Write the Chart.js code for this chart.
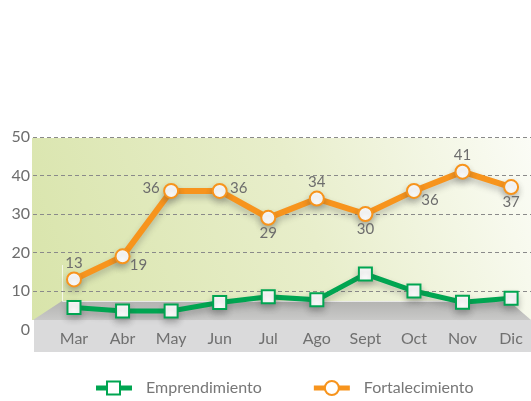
<!DOCTYPE html>
<html lang="es">
<head>
<meta charset="utf-8">
<title>Emprendimiento y Fortalecimiento</title>
<script src="https://cdn.jsdelivr.net/npm/chart.js@4.4.1/dist/chart.umd.min.js"></script>
<style>
  html, body { margin: 0; padding: 0; background: #fff; overflow: hidden; }
  canvas { display: block; }
</style>
</head>
<body>
<canvas id="grafico" width="531" height="401"></canvas>
<script>
"use strict";

const meses           = ["Mar", "Abr", "May", "Jun", "Jul", "Ago", "Sept", "Oct", "Nov", "Dic"];
const emprendimiento  = [5.7, 4.8, 4.8, 7.0, 8.5, 7.7, 14.4, 10.0, 7.1, 8.1];
const fortalecimiento = [13, 19, 36, 36, 29, 34, 30, 36, 41, 37];
const ejeYMin = 0;
const ejeYMax = 50;
const ejeYPaso = 10;

const VERDE   = "#00a551";
const NARANJA = "#f7941d";
const GRIS    = "#6d6d6d";
const FUENTE  = "Lato, 'Open Sans', sans-serif";

// fondo verde, piso gris y franja de meses
const fondo = {
  id: "fondo",
  beforeDraw(chart) {
    const { ctx, chartArea } = chart;
    const y = chart.scales.y;
    const izq = chartArea.left - 1;
    const der = chart.width;
    const arriba = y.getPixelForValue(ejeYMax) + 1;
    const base = chartArea.bottom;
    const pisoArriba = base - 28.5;
    const pisoAbajo = base - 9.5;

    ctx.save();
    const g = ctx.createLinearGradient(izq, pisoAbajo, der, arriba);
    g.addColorStop(0, "#d8e4aa");
    g.addColorStop(0.55, "#e8eecb");
    g.addColorStop(1, "#fbfcf6");
    ctx.fillStyle = g;
    ctx.fillRect(izq, arriba, der - izq, pisoAbajo - arriba);

    const p = ctx.createLinearGradient(0, pisoArriba, 0, pisoAbajo);
    p.addColorStop(0, "#b3b3b1");
    p.addColorStop(1, "#c9c9c8");
    ctx.fillStyle = p;
    ctx.beginPath();
    ctx.moveTo(izq + 1, pisoAbajo);
    ctx.lineTo(izq + 30, pisoArriba);
    ctx.lineTo(der - 22, pisoArriba);
    ctx.lineTo(der, pisoAbajo);
    ctx.closePath();
    ctx.fill();

    ctx.strokeStyle = "rgba(255,255,255,0.7)";
    ctx.lineWidth = 1;
    ctx.beginPath();
    ctx.moveTo(izq + 30.5, pisoArriba - 36);
    ctx.lineTo(izq + 30.5, pisoArriba + 0.5);
    ctx.lineTo(der - 22, pisoArriba + 0.5);
    ctx.stroke();

    ctx.fillStyle = "#dadadb";
    ctx.fillRect(izq + 2, pisoAbajo, der - izq - 2, 32);
    ctx.restore();
  }
};

// sombra suave bajo las líneas
const sombra = {
  id: "sombra",
  beforeDatasetsDraw(chart) {
    const ctx = chart.ctx;
    ctx.save();
    ctx.shadowColor = "rgba(70,70,70,0.3)";
    ctx.shadowBlur = 6;
    ctx.shadowOffsetY = 4;
  },
  afterDatasetsDraw(chart) {
    chart.ctx.restore();
  }
};

// valores de Fortalecimiento junto a cada punto
const etiquetas = {
  id: "etiquetas",
  afterDraw(chart, args, opts) {
    const ctx = chart.ctx;
    const puntos = chart.getDatasetMeta(1).data;
    const desp = {
      arriba: [0, -16], abajo: [0, 15], izq: [-20, -3], der: [19, -3], se: [16, 9]
    };
    ctx.save();
    ctx.font = "15px " + FUENTE;
    ctx.fillStyle = GRIS;
    ctx.textAlign = "center";
    ctx.textBaseline = "middle";
    puntos.forEach((pt, i) => {
      const [dx, dy] = desp[opts.lugar[i]];
      ctx.fillText(String(fortalecimiento[i]), pt.x + dx, pt.y + dy);
    });
    ctx.restore();
  }
};

// leyenda con línea y marcador
const leyenda = {
  id: "leyenda",
  afterDraw(chart) {
    const ctx = chart.ctx;
    const y = 388;
    let x = 96;
    ctx.save();
    ctx.font = "16px " + FUENTE;
    ctx.textBaseline = "middle";
    chart.data.datasets.forEach(ds => {
      ctx.strokeStyle = ds.borderColor;
      ctx.lineWidth = 5;
      ctx.beginPath();
      ctx.moveTo(x, y);
      ctx.lineTo(x + 36, y);
      ctx.stroke();
      ctx.fillStyle = "#fff";
      ctx.strokeStyle = ds.pointBorderColor;
      ctx.lineWidth = 2;
      ctx.beginPath();
      if (ds.pointStyle === "rect") {
        ctx.rect(x + 11, y - 6.5, 13, 13);
      } else {
        ctx.arc(x + 18, y, 7, 0, Math.PI * 2);
      }
      ctx.fill();
      ctx.stroke();
      ctx.fillStyle = "#777";
      ctx.fillText(ds.label, x + 50, y);
      x += 50 + ctx.measureText(ds.label).width + 52;
    });
    ctx.restore();
  }
};

new Chart(document.getElementById("grafico"), {
  type: "line",
  data: {
    datasets: [
      {
        label: "Emprendimiento",
        data: emprendimiento.map((v, i) => ({ x: i, y: v })),
        borderColor: VERDE,
        borderWidth: 5,
        pointStyle: "rect",
        pointRadius: 9.2,
        pointBorderWidth: 2,
        pointBackgroundColor: "#fff",
        pointBorderColor: VERDE,
        tension: 0
      },
      {
        label: "Fortalecimiento",
        data: fortalecimiento.map((v, i) => ({ x: i, y: v })),
        borderColor: NARANJA,
        borderWidth: 6,
        pointStyle: "circle",
        pointRadius: 7,
        pointBorderWidth: 2,
        pointBackgroundColor: "#fff",
        pointBorderColor: NARANJA,
        tension: 0
      }
    ]
  },
  options: {
    responsive: false,
    animation: false,
    layout: { autoPadding: false, padding: { top: 137, right: 0, bottom: 49, left: 0 } },
    plugins: {
      legend: { display: false },
      tooltip: { enabled: false },
      etiquetas: {
        lugar: ["arriba", "se", "izq", "der", "abajo", "arriba", "abajo", "se", "arriba", "abajo"]
      }
    },
    scales: {
      x: {
        type: "linear",
        min: -0.844,
        max: 9.41,
        afterFit: s => { s.paddingLeft = 0; s.paddingRight = 0; s.height = 22.5; },
        grid: { display: false, drawTicks: false },
        border: { display: false },
        ticks: {
          stepSize: 1,
          includeBounds: false,
          autoSkip: false,
          maxRotation: 0,
          padding: 0,
          color: "#707070",
          font: { family: FUENTE, size: 16 },
          callback: v => meses[v] ?? ""
        }
      },
      y: {
        min: ejeYMin,
        max: ejeYMax,
        afterFit: s => { s.width = 33; s.paddingTop = 0; s.paddingBottom = 0; },
        grid: {
          drawTicks: false,
          color: c => (c.tick && c.tick.value === 0 ? "transparent" : "#8a8a8a"),
          lineWidth: 1
        },
        border: { display: false, dash: [4, 3] },
        ticks: {
          stepSize: ejeYPaso,
          padding: 3,
          color: GRIS,
          font: { family: FUENTE, size: 16 }
        }
      }
    }
  },
  plugins: [fondo, sombra, etiquetas, leyenda]
});
</script>
</body>
</html>
